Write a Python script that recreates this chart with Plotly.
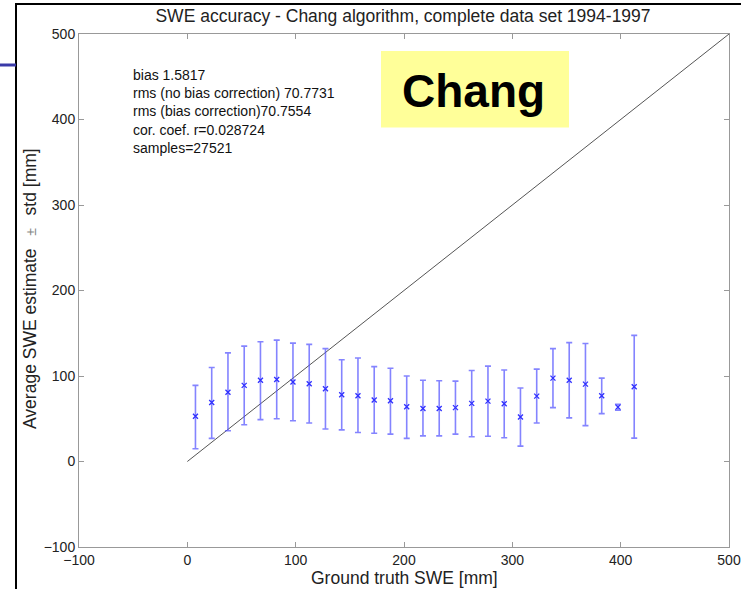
import plotly.graph_objects as go

# Data
ground_truth = [7.5 + 15 * k for k in range(28)]
swe_mean = [53, 69, 81, 89, 95, 96, 93, 91, 85, 78, 77, 72, 71, 64, 62, 62, 63, 68,
            70.6, 67.5, 52, 76.5, 97.5, 95, 90.5, 77, 63.6, 87.5]
swe_upper = [89, 110, 127, 135, 140, 142, 138.5, 137, 132, 119, 121, 111, 109, 100, 95,
             94.5, 94, 106.5, 111.6, 107, 86, 108, 132, 139, 138, 97.5, 67, 147.5]
swe_lower = [15, 27, 36, 43, 49, 50, 47.6, 45, 38, 37, 34, 33, 32, 27, 30, 30, 32, 29,
             29.6, 27.7, 18, 45, 63, 51, 42, 56, 60, 27.3]
one_to_one = [0, 500]

x_ticks = [-100, 0, 100, 200, 300, 400, 500]
y_ticks = [-100, 0, 100, 200, 300, 400, 500]

stats_lines = ["bias 1.5817",
               "rms (no bias correction) 70.7731",
               "rms (bias correction)70.7554",
               "cor. coef. r=0.028724",
               "samples=27521"]

err_plus = [u - m for u, m in zip(swe_upper, swe_mean)]
err_minus = [m - l for m, l in zip(swe_mean, swe_lower)]

FONT = "Liberation Sans, Arial, sans-serif"
W, H = 741, 589
L, R, T, B = 79, 729, 34, 547


def px(xp):
    return (xp - L) / (R - L)


def py(yp):
    return (B - yp) / (B - T)


fig = go.Figure()
fig.add_trace(go.Scatter(x=one_to_one, y=one_to_one, mode="lines",
                         line=dict(color="#555555", width=1), hoverinfo="skip"))
fig.add_trace(go.Scatter(
    x=ground_truth, y=swe_mean, mode="markers",
    marker=dict(symbol="x-thin", size=5, color="#3030ff",
                line=dict(width=1.3, color="#3030ff")),
    error_y=dict(type="data", array=err_plus, arrayminus=err_minus,
                 color="rgba(80,80,255,0.7)", thickness=1.6, width=3),
))

# Yellow "Chang" label box
fig.add_shape(type="rect", xref="paper", yref="paper", x0=px(381), x1=px(569),
              y0=py(127.5), y1=py(51), fillcolor="#FFFF99", line=dict(width=0), layer="below")
fig.add_annotation(x=px(474), y=py(91), xref="paper", yref="paper", text="<b>Chang</b>",
                   xanchor="center", yanchor="middle",
                   showarrow=False, font=dict(family=FONT, size=46, color="black"))

# Statistics text
fig.add_annotation(x=px(131), y=py(65), xref="paper", yref="paper",
                   xanchor="left", yanchor="top", align="left", showarrow=False,
                   text="<br>".join(stats_lines),
                   font=dict(family=FONT, size=14, color="#111111"))

# Axis titles
fig.add_annotation(x=px(404), y=py(578), xref="paper", yref="paper", showarrow=False,
                   text="Ground truth SWE [mm]", xanchor="center", yanchor="middle",
                   font=dict(family=FONT, size=17.5, color="#222222"))
fig.add_annotation(x=px(30), y=py(289), xref="paper", yref="paper", showarrow=False,
                   textangle=-90, xanchor="center", yanchor="middle",
                   text="Average SWE estimate <span style='font-size:14px;color:#888888'>  ±  </span> std [mm]",
                   font=dict(family=FONT, size=17.5, color="#222222"))

# Slide decorations (frame and blue rule)
frame_path = "M {a},{b} L {a},{c} L {d},{c}".format(a=px(16), b=py(600), c=py(4), d=px(750))
fig.add_shape(type="path", xref="paper", yref="paper", path=frame_path,
              line=dict(color="black", width=2), layer="above")
fig.add_shape(type="line", xref="paper", yref="paper",
              x0=px(-2), x1=px(16), y0=py(65), y1=py(65),
              line=dict(color="#3a3aa8", width=3))

axis_common = dict(showgrid=False, zeroline=False, showline=True, linecolor="#999999",
                   linewidth=1, mirror="ticks", ticks="inside", ticklen=5, automargin=False,
                   tickcolor="#999999", tickfont=dict(family=FONT, size=14, color="#222222"))

fig.update_layout(
    width=W, height=H,
    margin=dict(l=L, r=W - R, t=T, b=H - B, autoexpand=False),
    paper_bgcolor="white", plot_bgcolor="white",
    showlegend=False,
    title=dict(text="SWE accuracy - Chang algorithm, complete data set 1994-1997",
               x=403 / W, xanchor="center", y=1 - 16 / H, yanchor="middle",
               font=dict(family=FONT, size=17.5, color="#222222")),
    xaxis=dict(range=[-100, 500], tickvals=x_ticks, **axis_common),
    yaxis=dict(range=[-100, 500], tickvals=y_ticks, **axis_common),
)

fig.write_html("out.html")
